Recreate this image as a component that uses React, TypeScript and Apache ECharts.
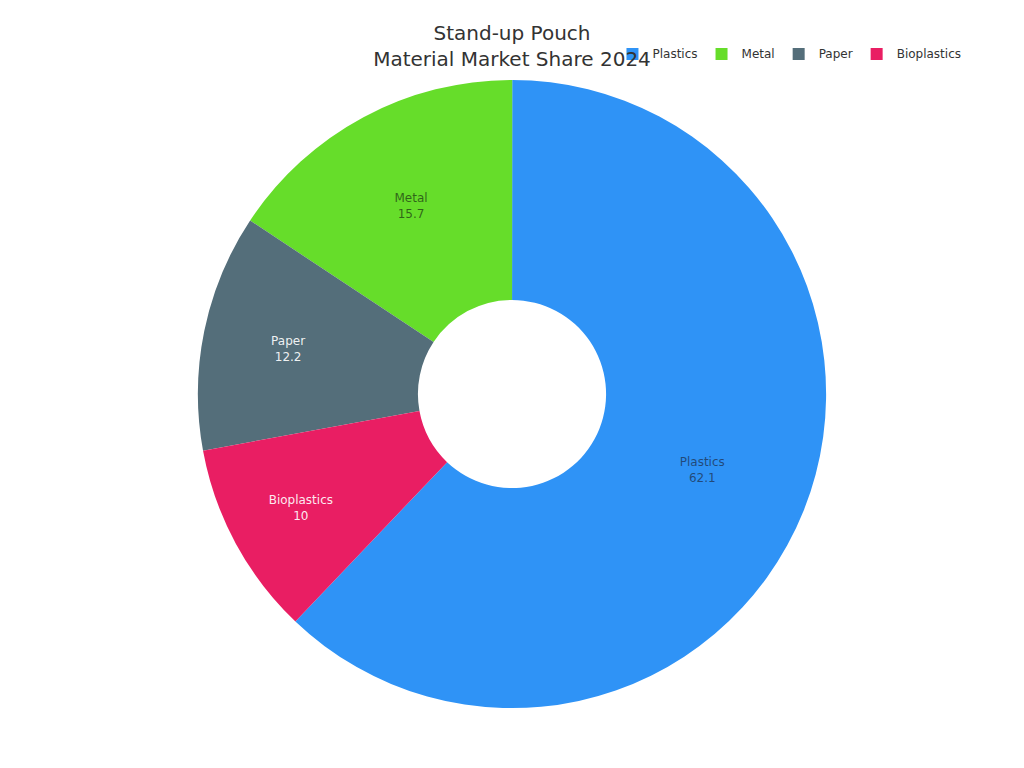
import React, { useEffect, useRef } from "react";
import * as echarts from "echarts";

const categories = ["Plastics", "Metal", "Paper", "Bioplastics"];
const values = [62.1, 15.7, 12.2, 10];
const colors = ["#2f93f6", "#66dd2a", "#546e7a", "#e91e63"];
const labelColors = ["rgba(30,50,80,0.75)", "rgba(30,60,20,0.75)", "rgba(255,255,255,0.92)", "rgba(255,255,255,0.92)"];
const labelOffsets = [[-2, -1], [-3, -6], [-21, -3], [-29, 16]];

export default function App() {
  const ref = useRef<HTMLDivElement>(null);
  useEffect(() => {
    document.body.style.margin = "0";
    const chart = echarts.init(ref.current!, null, { renderer: "svg" });
    const data = categories.map((name, i) => ({
      name,
      value: values[i],
      itemStyle: { color: colors[i] },
      label: { color: labelColors[i], offset: labelOffsets[i] },
    }));
    chart.setOption({
      animation: false,
      title: {
        text: "Stand-up Pouch\nMaterial Market Share 2024",
        left: "center",
        top: 15,
        textStyle: { fontSize: 20, fontWeight: "normal", color: "#333", lineHeight: 26, fontFamily: "DejaVu Sans" },
      },
      legend: {
        data: categories,
        right: 58,
        top: 43,
        itemWidth: 30,
        itemHeight: 12,
        itemGap: 18,
        icon: "path://M0,0h10v10h-10z",
        textStyle: { fontSize: 12, color: "#333", fontFamily: "DejaVu Sans" },
      },
      series: [
        {
          type: "pie",
          radius: ["24.5%", "81.8%"],
          center: ["50%", 394],
          startAngle: 226.4,
          clockwise: false,
          data,
          label: {
            show: true,
            position: "inside",
            formatter: "{b}\n{c}",
            fontSize: 12,
            lineHeight: 16,
            fontFamily: "DejaVu Sans",
          },
          labelLine: { show: false },
          itemStyle: { borderColor: "#fff", borderWidth: 0 },
        },
      ],
    });
    return () => chart.dispose();
  }, []);
  return <div ref={ref} style={{ width: 1024, height: 768 }} />;
}
